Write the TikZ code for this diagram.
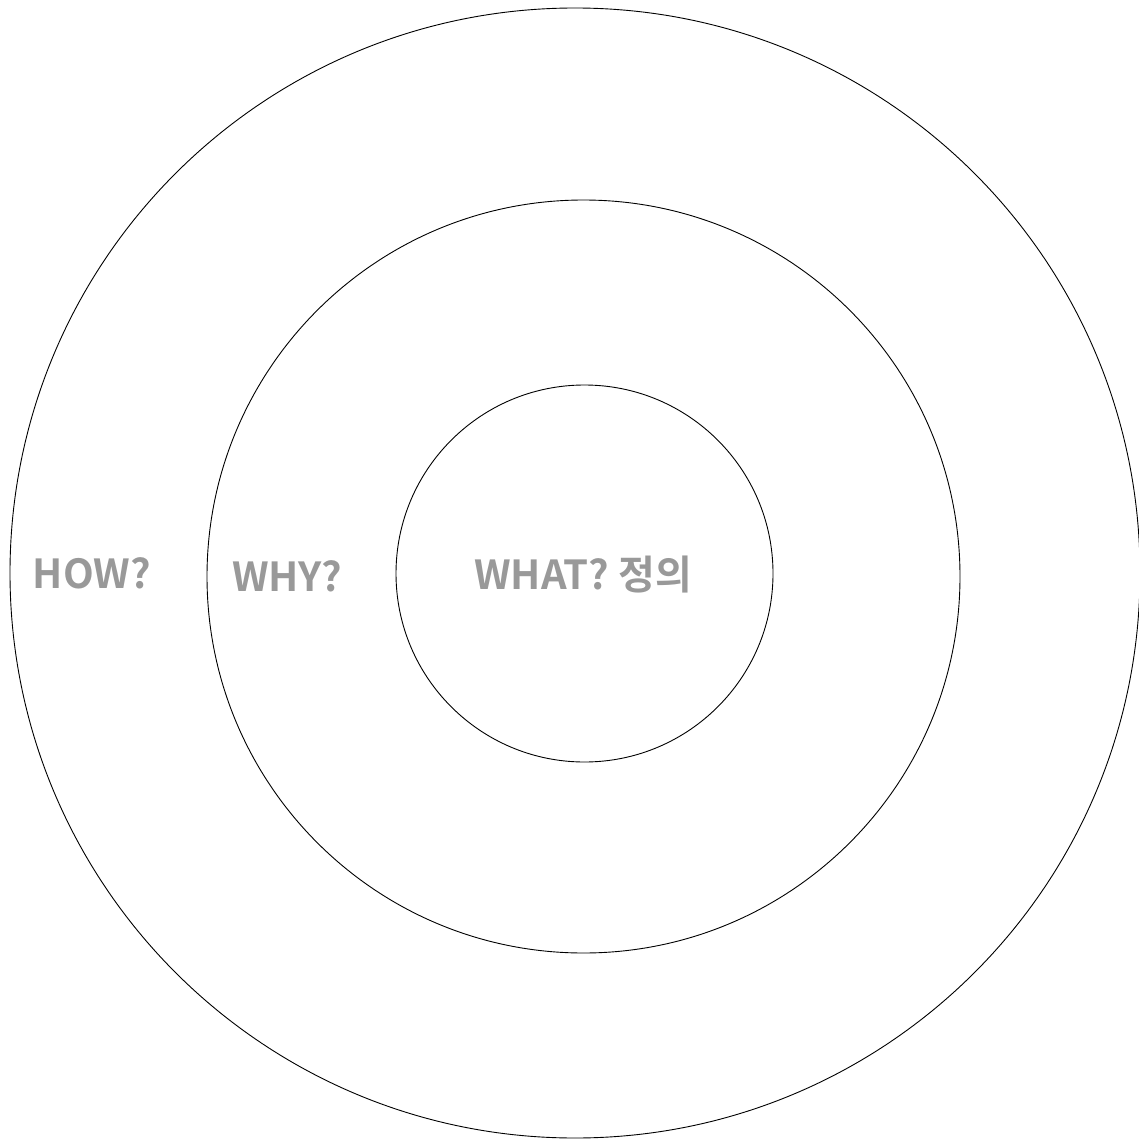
\documentclass[tikz,border=0pt]{standalone}
\usepackage{fontspec}
\newfontfamily\labelfont{Noto Sans CJK KR Bold}
\definecolor{labelgray}{HTML}{999999}
\begin{document}
\begin{tikzpicture}[x=1pt,y=-1pt,
  ring/.style={draw=black,line width=0.9pt},
  lbl/.style={text=labelgray,font=\labelfont\fontsize{40}{42}\selectfont,inner sep=0pt,anchor=center}]
\useasboundingbox (0,0) rectangle (1138,1139);
\draw[ring] (575,573) circle [radius=565];
\draw[ring] (583.5,576.5) circle [radius=376.5];
\draw[ring] (584.5,573.5) circle [radius=188.5];
\node[lbl] (how) at (92,573) {HOW?};
\node[lbl] (why) at (287,576) {WHY?};
\node[lbl] (what) at (583,575) {WHAT? 정의};
\end{tikzpicture}
\end{document}
